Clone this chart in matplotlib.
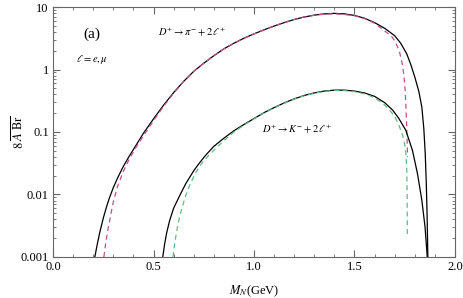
import numpy as np
import matplotlib.pyplot as plt
from matplotlib.ticker import LogLocator, MultipleLocator, NullFormatter, FixedFormatter, FixedLocator

plt.rcParams['font.family'] = ['Liberation Serif', 'DejaVu Serif']
plt.rcParams['mathtext.fontset'] = 'stix'

# D+ -> pi- + 2l : full result (solid) as log10 values
pi_full_m = [0.208, 0.22, 0.233, 0.25, 0.266, 0.28, 0.30, 0.325, 0.35, 0.375, 0.40, 0.45,
             0.50, 0.55, 0.60, 0.65, 0.70, 0.75, 0.80, 0.85, 0.90, 0.95, 1.00, 1.05, 1.10,
             1.15, 1.20, 1.25, 1.30, 1.35, 1.40, 1.45, 1.50, 1.55, 1.60, 1.65, 1.70, 1.73,
             1.76, 1.78, 1.80, 1.82, 1.835, 1.845, 1.852, 1.857, 1.861, 1.865]
pi_full_lg = [-3.0, -2.80, -2.60, -2.38, -2.20, -2.06, -1.89, -1.71, -1.55, -1.41, -1.28, -1.02,
              -0.79, -0.57, -0.37, -0.19, -0.03, 0.10, 0.22, 0.33, 0.42, 0.50, 0.57, 0.635, 0.695,
              0.75, 0.80, 0.84, 0.87, 0.89, 0.898, 0.89, 0.865, 0.82, 0.75, 0.66, 0.54, 0.42,
              0.25, 0.08, -0.12, -0.35, -0.60, -0.95, -1.35, -1.80, -2.30, -3.0]

# D+ -> pi- + 2l : approximation (dashed)
pi_appr_m = [0.253, 0.262, 0.275, 0.29, 0.30, 0.32, 0.35, 0.38, 0.41, 0.45, 0.50, 0.55,
             0.60, 0.65, 0.70, 0.75, 0.80, 0.85, 0.90, 0.95, 1.00, 1.05, 1.10, 1.15, 1.20,
             1.25, 1.30, 1.35, 1.40, 1.45, 1.50, 1.55, 1.60, 1.65, 1.687, 1.70, 1.722, 1.737,
             1.746, 1.752, 1.756, 1.759, 1.762, 1.764]
pi_appr_lg = [-3.0, -2.78, -2.53, -2.28, -2.12, -1.88, -1.63, -1.43, -1.26, -1.06, -0.82, -0.59,
              -0.38, -0.19, -0.03, 0.10, 0.22, 0.33, 0.42, 0.50, 0.57, 0.635, 0.695, 0.75, 0.80,
              0.84, 0.868, 0.886, 0.892, 0.88, 0.86, 0.815, 0.74, 0.62, 0.52, 0.46, 0.31, 0.10,
              -0.10, -0.32, -0.60, -0.85, -1.15, -1.40]

# D+ -> K- + 2l : full result (solid)
k_full_m = [0.546, 0.555, 0.565, 0.58, 0.60, 0.63, 0.66, 0.70, 0.73, 0.76, 0.80, 0.85, 0.90,
            0.95, 1.00, 1.05, 1.10, 1.15, 1.20, 1.25, 1.30, 1.35, 1.40, 1.45, 1.50, 1.55,
            1.60, 1.65, 1.69, 1.72, 1.755, 1.788, 1.813, 1.835, 1.851, 1.862]
k_full_lg = [-3.0, -2.80, -2.62, -2.42, -2.22, -2.02, -1.83, -1.62, -1.49, -1.37, -1.23, -1.10,
             -0.98, -0.88, -0.785, -0.69, -0.61, -0.535, -0.47, -0.415, -0.375, -0.345, -0.33,
             -0.33, -0.345, -0.375, -0.43, -0.53, -0.65, -0.78, -0.97, -1.29, -1.66, -2.09,
             -2.52, -3.0]

# D+ -> K- + 2l : approximation (dashed)
k_appr_m = [0.597, 0.605, 0.614, 0.625, 0.64, 0.66, 0.68, 0.71, 0.74, 0.77, 0.81, 0.85, 0.90,
            0.95, 1.00, 1.05, 1.10, 1.15, 1.20, 1.25, 1.30, 1.35, 1.40, 1.45, 1.50, 1.55,
            1.60, 1.64, 1.67, 1.70, 1.722, 1.74, 1.75, 1.756, 1.760, 1.762, 1.763]
k_appr_lg = [-3.0, -2.80, -2.61, -2.43, -2.23, -2.02, -1.85, -1.65, -1.50, -1.39, -1.26, -1.14,
             -1.00, -0.89, -0.79, -0.695, -0.615, -0.54, -0.475, -0.42, -0.38, -0.35, -0.335,
             -0.338, -0.355, -0.39, -0.45, -0.54, -0.63, -0.75, -0.90, -1.06, -1.20, -1.35,
             -1.60, -2.00, -2.68]

fig = plt.figure(figsize=(4.63, 2.98), dpi=100)
ax = fig.add_axes([0.1145, 0.1376, 0.8682, 0.8389])

ax.plot(pi_full_m, 10 ** np.array(pi_full_lg), color='black', lw=0.9)
ax.plot(pi_appr_m, 10 ** np.array(pi_appr_lg), color='#c0508a', lw=0.9, dashes=(4, 3))
ax.plot(k_full_m, 10 ** np.array(k_full_lg), color='black', lw=0.9)
ax.plot(k_appr_m, 10 ** np.array(k_appr_lg), color='#60bb80', lw=0.9, dashes=(4, 3))

ax.set_yscale('log')
ax.set_xlim(0, 2.0)
ax.set_ylim(0.001, 10)
ax.xaxis.set_major_locator(MultipleLocator(0.5))
ax.xaxis.set_minor_locator(MultipleLocator(0.1))
ax.xaxis.set_major_formatter(plt.FuncFormatter(lambda v, p: '%.1f' % v))
ax.yaxis.set_major_locator(FixedLocator([0.001, 0.01, 0.1, 1, 10]))
ax.yaxis.set_major_formatter(FixedFormatter(['0.001', '0.01', '0.1', '1', '10']))
ax.yaxis.set_minor_locator(LogLocator(base=10, subs=np.arange(2, 10)))
ax.yaxis.set_minor_formatter(NullFormatter())

ax.tick_params(which='both', direction='in', top=True, right=True, color='#666666',
               labelsize=9, pad=3)
ax.tick_params(which='major', length=5)
ax.tick_params(which='minor', length=2.5)
for s in ax.spines.values():
    s.set_color('#666666')
    s.set_linewidth(0.8)

ax.set_xlabel(r'$M_N$(GeV)', fontsize=9)
ax.xaxis.set_label_coords(0.5, -0.105)
ax.set_ylabel(r'$8\;\overline{A\ \mathrm{Br}}$', fontsize=9)
ax.yaxis.set_label_coords(-0.065, 0.5)

ax.text(0.195, 3.7, '(a)', fontsize=11, ha='center', va='center')
ax.text(0.195, 1.42, r'$\ell = e,\mu$', fontsize=7.5, ha='center', va='center')
ax.text(0.52, 4.0, r'$D^{+}\rightarrow\pi^{-}+2\,\ell^{+}$', fontsize=7.5, ha='left', va='center')
ax.text(1.04, 0.115, r'$D^{+}\rightarrow K^{-}+2\,\ell^{+}$', fontsize=7.5, ha='left', va='center')

fig.savefig('out.png', dpi=100)
